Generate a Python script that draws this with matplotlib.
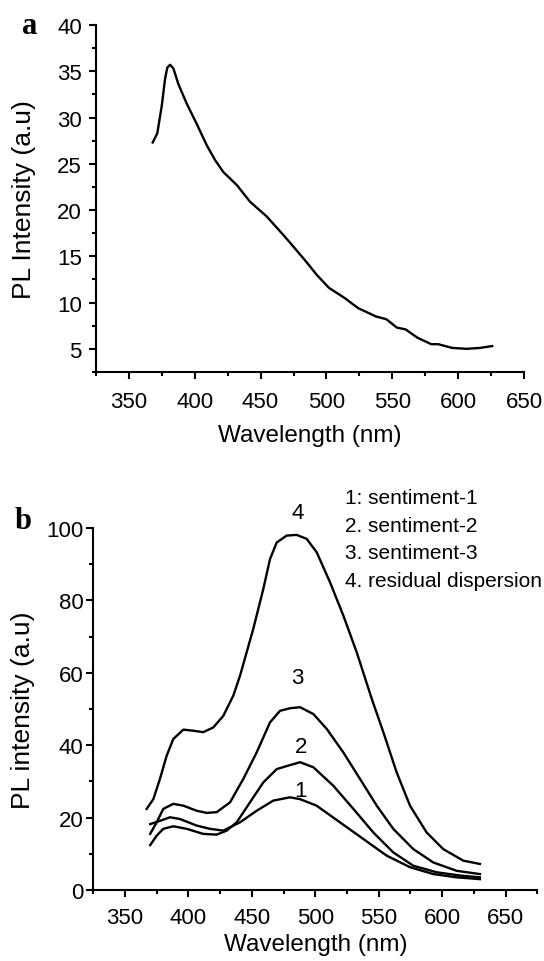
import matplotlib
matplotlib.use('Agg')
import matplotlib.pyplot as plt
from matplotlib.ticker import MultipleLocator

plt.rcParams['font.family'] = ['Liberation Sans', 'DejaVu Sans']

# panel a: PL spectrum
wl_a = [368.2, 371.7, 375.1, 377.6, 379.3, 381.4, 383.9, 387.7, 394, 401.6, 409.2,
        415.5, 421.8, 432, 442, 454.7, 467.3, 474, 484.7, 492.6, 501.8, 513.7, 524,
        537.5, 545.4, 553.3, 560, 569, 579.5, 584.8, 595.3, 606, 616.5, 625.7]
pl_a = [27.3, 28.3, 31.3, 34.2, 35.4, 35.7, 35.3, 33.6, 31.5, 29.3, 27.0,
        25.4, 24.1, 22.7, 20.9, 19.3, 17.3, 16.2, 14.4, 13.0, 11.6, 10.5, 9.4,
        8.5, 8.2, 7.3, 7.1, 6.2, 5.5, 5.5, 5.1, 5.0, 5.1, 5.3]

# panel b: four spectra
wl_4 = [367.1, 372.4, 377.6, 382.9, 388.1, 396, 403.9, 411.7, 419.6, 427.5, 435.4,
        440.7, 451.1, 459, 464.3, 469.6, 477.4, 485.3, 493.2, 501.1, 511.6, 522.1,
        532.6, 544.5, 553.6, 564.1, 574.6, 587.7, 600.8, 616.6, 629.7]
pl_4 = [22.4, 25.1, 30.7, 37.1, 41.7, 44.3, 44.0, 43.6, 44.9, 48.1, 53.7,
        59.2, 72.1, 83.1, 91.4, 96.0, 97.9, 98.1, 97.0, 93.3, 85.0, 75.8,
        65.7, 52.8, 43.6, 32.5, 23.3, 15.9, 11.3, 8.1, 7.2]

wl_3 = [369.9, 375.0, 380.2, 388.1, 396, 406.5, 414.4, 422.3, 432.8, 443.3, 453.8,
        464.3, 472.2, 480, 488, 498.5, 509, 522.1, 535.2, 548.4, 561.4, 577.2, 593,
        611.4, 629.7]
pl_3 = [15.5, 18.7, 22.4, 23.8, 23.3, 21.9, 21.3, 21.5, 24.2, 30.7, 38.0,
        46.3, 49.5, 50.2, 50.5, 48.6, 44.5, 38.0, 30.7, 23.3, 16.9, 11.3, 7.6,
        5.3, 4.4]

wl_2 = [369.9, 375.0, 380.2, 388.1, 398.7, 411.7, 422.3, 430.2, 438.1, 448.5, 459,
        469.6, 480, 488, 498.5, 514.2, 530, 545.7, 561.4, 577.2, 595.6, 614, 629.7]
pl_2 = [12.4, 15.0, 16.9, 17.6, 16.9, 15.5, 15.3, 16.4, 18.7, 24.2, 29.7,
        33.4, 34.5, 35.3, 33.9, 28.8, 22.4, 15.9, 10.4, 6.7, 4.9, 4.0, 3.5]

wl_1 = [369.9, 377.6, 385.5, 393.4, 406.5, 417, 427.5, 440.7, 453.8, 466.9, 480,
        488, 501, 519.4, 537.8, 556.2, 574.6, 593, 611.4, 629.7]
pl_1 = [18.2, 19.1, 20.1, 19.6, 17.8, 16.9, 16.4, 18.7, 21.9, 24.7, 25.6,
        25.1, 23.3, 18.7, 14.1, 9.5, 6.3, 4.4, 3.5, 3.0]

curve_labels = ['1', '2', '3', '4']
label_x = [488, 489, 486, 486]
label_y = [27.5, 39.6, 58.6, 104.3]
legend_lines = ['1: sentiment-1', '2. sentiment-2', '3. sentiment-3', '4. residual dispersion']

fig = plt.figure(figsize=(5.44, 9.62), dpi=100)
ax1 = fig.add_axes([0.176, 0.6123, 0.7877, 0.3607])
ax2 = fig.add_axes([0.1713, 0.0738, 0.8166, 0.3763])


def style(ax):
    for s in ['top', 'right']:
        ax.spines[s].set_visible(False)
    for s in ['left', 'bottom']:
        ax.spines[s].set_linewidth(1.5)
    ax.tick_params(which='major', direction='out', length=5, width=1.5, labelsize=16)
    ax.tick_params(which='minor', direction='out', length=3, width=1.5)


ax1.plot(wl_a, pl_a, color='black', lw=1.7)
ax1.set_xlim(325, 650)
ax1.set_ylim(2.5, 40)
ax1.xaxis.set_minor_locator(MultipleLocator(25))
ax1.yaxis.set_minor_locator(MultipleLocator(2.5))
ax1.set_xticks([350, 400, 450, 500, 550, 600, 650])
ax1.set_yticks([5, 10, 15, 20, 25, 30, 35, 40])
style(ax1)
ax1.tick_params(axis='x', which='major', pad=9)
ax1.tick_params(axis='y', which='major', pad=5)
ax1.set_xlabel('Wavelength (nm)', fontsize=17.5, labelpad=8)
ax1.set_ylabel('PL Intensity (a.u)', fontsize=19, labelpad=15)
fig.text(29.6 / 544, 1 - 27 / 962, 'a', family='Liberation Serif', fontweight='bold',
         fontsize=22, ha='center', va='center')

for wl, pl in [(wl_4, pl_4), (wl_3, pl_3), (wl_2, pl_2), (wl_1, pl_1)]:
    ax2.plot(wl, pl, color='black', lw=1.7)
ax2.set_xlim(325, 675)
ax2.set_ylim(0, 100)
ax2.xaxis.set_minor_locator(MultipleLocator(25))
ax2.set_xticks([350, 400, 450, 500, 550, 600, 650])
ax2.set_yticks([0, 20, 40, 60, 80, 100])
ax2.yaxis.set_minor_locator(MultipleLocator(10))
style(ax2)
ax2.tick_params(axis='x', which='major', pad=7)
ax2.tick_params(axis='y', which='major', pad=2)
ax2.set_xlabel('Wavelength (nm)', fontsize=17.5, labelpad=4)
ax2.set_ylabel('PL intensity (a.u)', fontsize=19, labelpad=8)
for t, x, y in zip(curve_labels, label_x, label_y):
    ax2.text(x, y, t, fontsize=16, ha='center', va='center', clip_on=False)
for i, t in enumerate(legend_lines):
    fig.text(345 / 544, 1 - (499 + 27.5 * i) / 962, t, fontsize=15, ha='left', va='center')
fig.text(22.6 / 544, 1 - 522 / 962, 'b', family='Liberation Serif', fontweight='bold',
         fontsize=22, ha='center', va='center')

fig.savefig('out.png', dpi=100)
